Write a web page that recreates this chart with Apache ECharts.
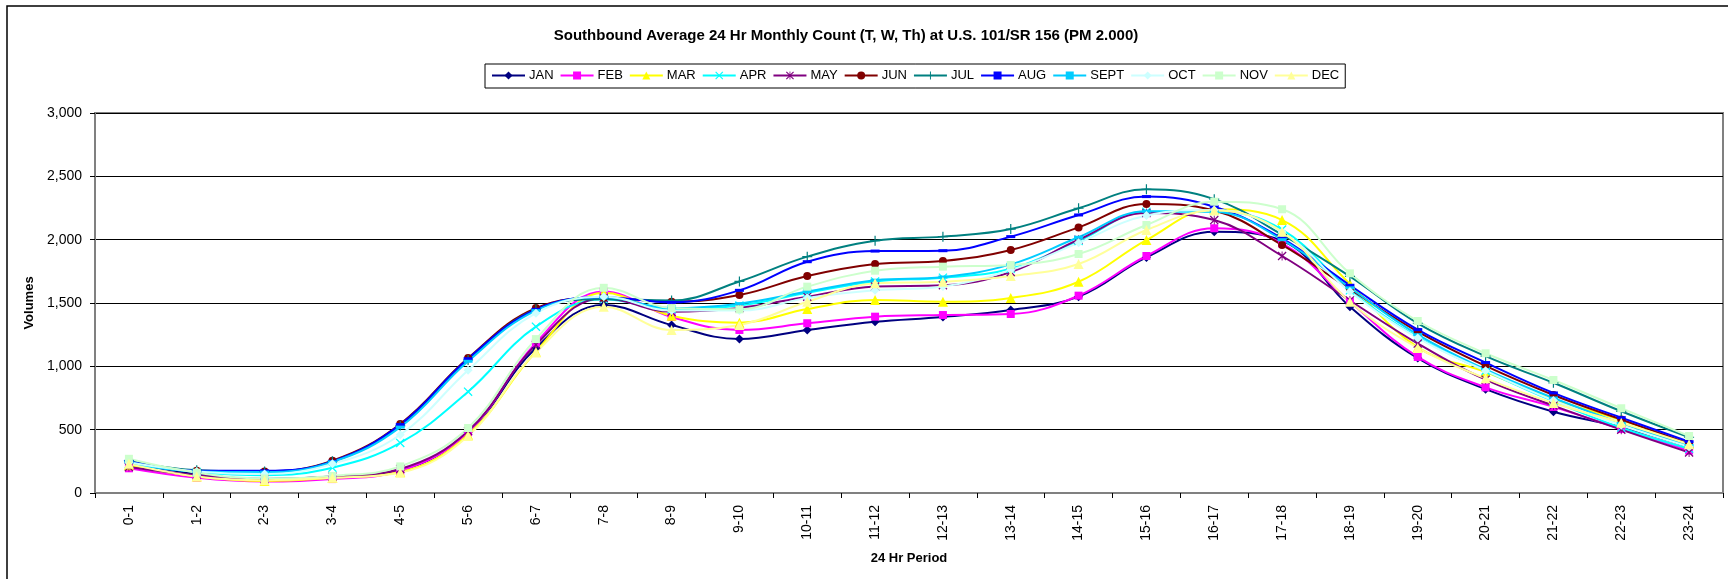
<!DOCTYPE html>
<html>
<head>
<meta charset="utf-8">
<script src="https://cdn.jsdelivr.net/npm/echarts@6/dist/echarts.min.js"></script>
<style>
html,body{margin:0;padding:0;background:#fff;}
#chart{width:1728px;height:579px;}
</style>
</head>
<body>
<div id="chart"></div>
<script>
var periods = ['0-1','1-2','2-3','3-4','4-5','5-6','6-7','7-8','8-9','9-10','10-11','11-12','12-13','13-14','14-15','15-16','16-17','17-18','18-19','19-20','20-21','21-22','22-23','23-24'];
var yTicks = [0, 500, 1000, 1500, 2000, 2500, 3000];

var JAN  = [240,150,110,130,180,480,1145,1485,1326,1215,1287,1352,1390,1445,1550,1860,2063,1990,1471,1065,820,642,520,360];
var FEB  = [195,120,90,110,175,480,1185,1590,1390,1287,1340,1392,1405,1413,1558,1871,2090,1970,1510,1074,834,680,505,335];
var MAR  = [220,130,95,120,165,460,1115,1580,1400,1345,1452,1524,1510,1540,1668,1997,2240,2155,1650,1150,955,740,575,390];
var APR  = [230,165,140,200,395,800,1313,1530,1450,1480,1580,1670,1700,1770,1990,2220,2225,2080,1600,1230,965,725,515,350];
var MAY  = [205,140,110,130,190,490,1170,1540,1430,1460,1550,1630,1640,1745,2000,2210,2155,1871,1520,1180,895,690,500,320];
var JUN  = [250,175,170,255,545,1065,1460,1540,1510,1563,1713,1808,1832,1918,2097,2282,2230,1958,1610,1274,1003,774,580,390];
var JUL  = [255,180,170,250,530,1050,1450,1530,1520,1670,1866,1992,2024,2084,2248,2398,2320,2040,1710,1340,1080,870,645,440];
var AUG  = [250,175,175,250,540,1060,1450,1545,1505,1600,1826,1910,1913,2024,2195,2340,2260,2010,1640,1290,1030,790,595,405];
var SEPT = [245,170,165,245,520,1040,1440,1545,1460,1495,1590,1680,1705,1805,2019,2225,2220,2000,1620,1250,975,750,550,375];
var OCT  = [240,170,150,230,460,970,1420,1550,1440,1440,1540,1600,1630,1760,1975,2190,2235,2060,1590,1224,965,730,535,365];
var NOV  = [270,160,115,135,210,513,1215,1620,1460,1450,1629,1755,1787,1800,1887,2116,2300,2240,1734,1358,1103,892,669,450];
var DEC  = [230,130,100,120,160,450,1110,1470,1287,1326,1510,1655,1668,1713,1808,2076,2230,2063,1510,1145,905,710,555,385];

var FONT = '"Liberation Sans", Arial, sans-serif';
var X_PATH = 'path://M0,1L1,0L10,9L9,10Z M9,0L10,1L1,10L0,9Z';
var STAR_PATH = 'path://M0,1L1,0L10,9L9,10Z M9,0L10,1L1,10L0,9Z M4.5,0H5.5V10H4.5Z';
var PLUS_PATH = 'path://M4.4,0H5.6V10H4.4Z M0,4.4H10V5.6H0Z';
var DASH_PATH = 'path://M0,0H10V3H0Z';

var defs = [
  {name:'JAN', data:JAN, color:'#000080', symbol:'diamond', size:9},
  {name:'FEB', data:FEB, color:'#FF00FF', symbol:'rect', size:8},
  {name:'MAR', data:MAR, color:'#FFFF00', symbol:'triangle', size:10},
  {name:'APR', data:APR, color:'#00FFFF', symbol:X_PATH, size:9},
  {name:'MAY', data:MAY, color:'#800080', symbol:STAR_PATH, size:9},
  {name:'JUN', data:JUN, color:'#800000', symbol:'circle', size:8},
  {name:'JUL', data:JUL, color:'#008080', symbol:PLUS_PATH, size:10},
  {name:'AUG', data:AUG, color:'#0000FF', symbol:DASH_PATH, size:[9,3]},
  {name:'SEPT', data:SEPT, color:'#00CCFF', symbol:DASH_PATH, size:[9,3]},
  {name:'OCT', data:OCT, color:'#CCFFFF', symbol:'diamond', size:9},
  {name:'NOV', data:NOV, color:'#CCFFCC', symbol:'rect', size:8},
  {name:'DEC', data:DEC, color:'#FFFF99', symbol:'triangle', size:10}
];

var series = defs.map(function(d){
  return {
    name: d.name,
    type: 'line',
    data: d.data,
    smooth: 0.4,
    symbol: d.symbol,
    symbolSize: d.size,
    showAllSymbol: true,
    color: d.color,
    lineStyle: {color: d.color, width: 2},
    itemStyle: {color: d.color, borderWidth: 0},
    emphasis: {disabled: true},
    animation: false
  };
});

var chart = echarts.init(document.getElementById('chart'), null, {renderer:'canvas'});
chart.setOption({
  animation: false,
  backgroundColor: '#ffffff',
  textStyle: {fontFamily: FONT},
  graphic: [
    {type:'rect', shape:{x:7, y:6, width:1800, height:700}, style:{fill:'none', stroke:'#000', lineWidth:1.5}, z:-10},
    {type:'text', x:846, y:36, style:{text:'Southbound Average 24 Hr Monthly Count (T, W, Th) at U.S. 101/SR 156 (PM 2.000)', font:'bold 15px ' + FONT, fill:'#000', textAlign:'center', textVerticalAlign:'middle'}}
  ],
  legend: {
    left: 485,
    top: 64,
    orient: 'horizontal',
    itemWidth: 33,
    itemHeight: 10,
    itemGap: 6,
    padding: [5, 6, 6, 6],
    borderColor: '#000',
    borderWidth: 1,
    textStyle: {fontFamily: FONT, fontSize: 13, color: '#000', padding: [0,0,0,-1]},
    data: defs.map(function(d){return d.name;})
  },
  grid: {
    left: 95, right: 5, top: 113, bottom: 86,
    show: true, borderColor: '#808080', borderWidth: 2,
    containLabel: false
  },
  xAxis: {
    type: 'category',
    data: periods,
    boundaryGap: true,
    name: '24 Hr Period',
    nameLocation: 'middle',
    nameGap: 59,
    nameTextStyle: {fontFamily: FONT, fontSize: 13, fontWeight: 'bold', color: '#000'},
    axisLine: {show: true, lineStyle: {color: '#808080', width: 2}},
    axisTick: {show: true, inside: false, length: 5, interval: 0, alignWithLabel: false, lineStyle: {color: '#000'}},
    axisLabel: {interval: 0, rotate: 90, margin: 12, fontFamily: FONT, fontSize: 14, color: '#000'},
    splitLine: {show: false}
  },
  yAxis: {
    type: 'value',
    min: 0, max: 3000, interval: 500,
    name: 'Volumes',
    nameLocation: 'middle',
    nameGap: 50,
    nameTextStyle: {fontFamily: FONT, fontSize: 13, fontWeight: 'bold', color: '#000'},
    axisLine: {show: true, lineStyle: {color: '#808080', width: 2}},
    axisTick: {show: true, inside: false, length: 5, lineStyle: {color: '#000'}},
    axisLabel: {margin: 13, fontFamily: FONT, fontSize: 14, color: '#000',
      formatter: function(v){ return yTicks.indexOf(v) >= 0 ? v.toLocaleString('en-US') : ''; }},
    splitLine: {show: true, lineStyle: {color: '#000', width: 1}}
  },
  series: series
});
</script>
</body>
</html>
